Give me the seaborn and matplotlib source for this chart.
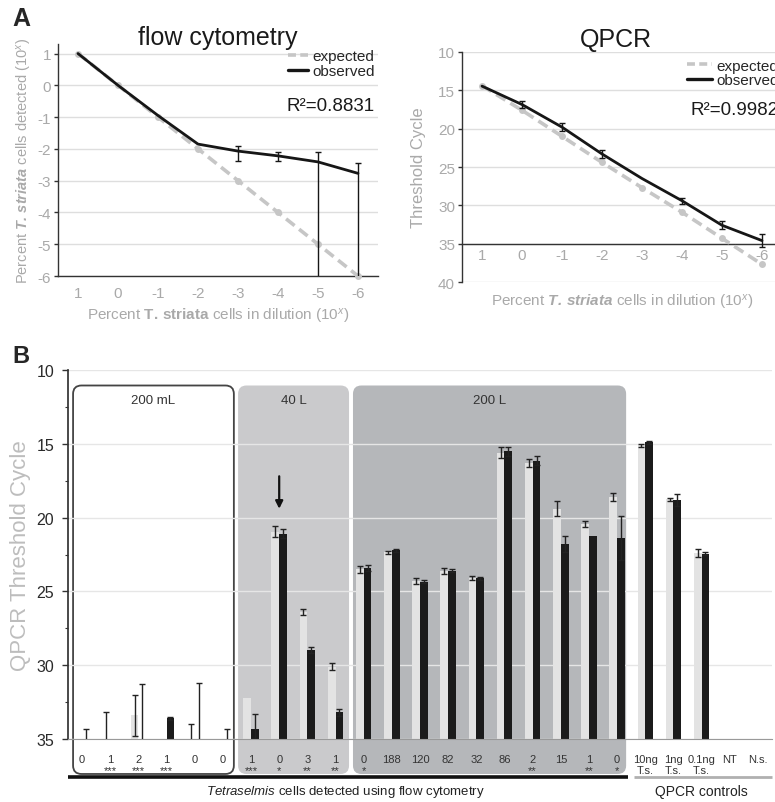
import numpy as np
import pandas as pd
import seaborn as sns
import matplotlib.pyplot as plt
from matplotlib.lines import Line2D
from matplotlib.patches import FancyBboxPatch
from matplotlib.ticker import FixedLocator, FuncFormatter, MultipleLocator

W, H = 775, 803

# ---------------- panel A data ----------------
dilution = ['1', '0', '-1', '-2', '-3', '-4', '-5', '-6']
fc_expected = [1, 0, -1, -2, -3, -4, -5, -6]
fc_observed = [1.0, 0.0, -0.95, -1.85, -2.07, -2.22, -2.41, -2.77]
fc_err_lo = [0, 0, 0, 0, 0.30, 0.16, 4.0, 4.0]
fc_err_hi = [0, 0, 0, 0, 0.16, 0.12, 0.31, 0.34]

qpcr_expected = [14.4, 17.6, 21.0, 24.4, 27.7, 30.9, 34.3, 37.7]
qpcr_observed = [14.45, 16.85, 19.8, 23.3, 26.5, 29.4, 32.6, 34.6]
qpcr_err = [0, 0.5, 0.5, 0.55, 0, 0.4, 0.5, 0.85]

# ---------------- panel B data ----------------
counts = ['0', '1', '2', '1', '0', '0',
          '1', '0', '3', '1',
          '0', '188', '120', '82', '32', '86', '2', '15', '1', '0',
          '10ng', '1ng', '0.1ng', 'NT', 'N.s.']
stars = ['', '***', '***', '***', '', '',
         '***', '*', '**', '**',
         '*', '', '', '', '', '', '**', '', '**', '*',
         'T.s.', 'T.s.', 'T.s.', '', '']
nan = np.nan
ct_light = [nan, 35.0, 33.4, nan, 35.0, nan,
            32.2, 20.95, 26.4, 30.1,
            23.5, 22.35, 24.3, 23.6, 24.1, 15.6, 16.3, 19.4, 20.45, 18.6,
            15.1, 18.75, 22.4, nan, nan]
err_light = [0, 1.85, 1.4, 0, 1.0, 0,
             0, 0.35, 0.2, 0.25,
             0.25, 0.1, 0.2, 0.2, 0.15, 0.35, 0.3, 0.5, 0.2, 0.25,
             0.1, 0.1, 0.3, 0, 0]
ct_dark = [35.0, nan, 35.0, 33.6, 35.0, 35.0,
           34.3, 21.1, 28.95, 33.2,
           23.4, 22.2, 24.35, 23.6, 24.1, 15.5, 16.15, 21.8, 21.25, 21.4,
           14.9, 18.8, 22.45, nan, nan]
err_dark = [0.7, 0, 3.7, 0.1, 3.8, 0.65,
            1.0, 0.3, 0.2, 0.25,
            0.2, 0.1, 0.1, 0.1, 0.1, 0.3, 0.3, 0.55, 0, 1.5,
            0.1, 0.4, 0.1, 0, 0]
volumes = ['200 mL', '40 L', '200 L']

# ---------------- style ----------------
sns.set_theme(style='white')
plt.rcParams['font.family'] = ['Liberation Sans', 'DejaVu Sans']
plt.rcParams['axes.unicode_minus'] = False
plt.rcParams['mathtext.fontset'] = 'custom'
plt.rcParams['mathtext.rm'] = 'Liberation Sans'
plt.rcParams['mathtext.it'] = 'Liberation Sans:italic'
plt.rcParams['mathtext.bf'] = 'Liberation Sans:bold'
plt.rcParams['mathtext.bfit'] = 'Liberation Sans:italic:bold'

GRAYTXT = '#a9a9a9'
EXP = '#c6c6c6'
OBS = '#161616'
GRID = '#dedede'


def px_rect(l, t, r, b):
    return [l / W, 1 - b / H, (r - l) / W, (b - t) / H]


fig = plt.figure(figsize=(W / 100, H / 100), dpi=100)


def style_a(ax):
    for s in ['top', 'right']:
        ax.spines[s].set_visible(False)
    ax.spines['left'].set_color('#333333')
    ax.spines['bottom'].set_color('#333333')
    ax.spines['left'].set_linewidth(1)
    ax.spines['bottom'].set_linewidth(1)
    ax.set_xticks(np.arange(len(dilution)))
    ax.set_xticklabels(dilution)
    ax.xaxis.set_minor_locator(FixedLocator(np.arange(-0.5, len(dilution), 1)))
    ax.tick_params(axis='x', which='major', length=0, pad=7, labelsize=11, labelcolor=GRAYTXT)
    ax.tick_params(axis='x', which='minor', length=5, width=1, direction='inout', color='#333333')
    ax.tick_params(axis='y', which='major', length=3, width=1, direction='out', left=True,
                   color='#333333', labelsize=11, labelcolor=GRAYTXT, pad=2)
    ax.yaxis.grid(True, color=GRID, lw=1)
    ax.xaxis.grid(False)
    ax.set_xlim(-0.5, len(dilution) - 0.5)
    handles = [Line2D([], [], color=EXP, lw=2.6, linestyle=(0, (2.2, 1.2))),
               Line2D([], [], color=OBS, lw=2.4)]
    return handles


pos = np.arange(len(dilution))

# ---------------- panel A: flow cytometry ----------------
ax1 = fig.add_axes(px_rect(58, 45, 378, 277))
sns.lineplot(x=pos, y=fc_expected, ax=ax1, color=EXP, lw=2.6, linestyle=(0, (3, 1.6)),
             marker='o', markersize=5, markeredgewidth=0, clip_on=False, zorder=3)
sns.lineplot(x=pos, y=fc_observed, ax=ax1, color=OBS, lw=2, zorder=4)
m = np.array(fc_err_hi) > 0
ax1.errorbar(pos[m], np.array(fc_observed)[m],
             yerr=[np.array(fc_err_lo)[m], np.array(fc_err_hi)[m]],
             fmt='none', ecolor=OBS, elinewidth=1, capsize=2.2, zorder=4)
h = style_a(ax1)
ax1.set_ylim(-6, 1.3)
ax1.set_yticks(range(-6, 2))
ax1.set_title('flow cytometry', fontsize=18, color='#1a1a1a', pad=0)
ax1.set_xlabel(r'Percent $\mathbf{T.}\,\mathbf{striata}$ cells in dilution (10$^{x}$)',
               fontsize=11, color=GRAYTXT)
ax1.xaxis.set_label_coords(0.5, -0.13)
ax1.set_ylabel(r'Percent $\mathbfit{T.}\,\mathbfit{striata}$ cells detected (10$^{x}$)',
               fontsize=10.5, color=GRAYTXT)
ax1.yaxis.set_label_coords(-0.075, 0.5)
ax1.legend(h, ['expected', 'observed'], loc='upper right', bbox_to_anchor=(1.0, 0.99),
           frameon=False, fontsize=11, handlelength=1.3, handletextpad=0.3,
           labelspacing=0.05, borderaxespad=0.1, borderpad=0.1)
ax1.text(0.99, 0.735, 'R²=0.8831', transform=ax1.transAxes, ha='right', va='center',
         fontsize=13.5, color='#1a1a1a')

# ---------------- panel A: QPCR ----------------
ax2 = fig.add_axes(px_rect(462, 53, 782, 283))
sns.lineplot(x=pos, y=qpcr_expected, ax=ax2, color=EXP, lw=2.6, linestyle=(0, (3, 1.6)),
             marker='o', markersize=5, markeredgewidth=0, clip_on=False, zorder=3)
sns.lineplot(x=pos, y=qpcr_observed, ax=ax2, color=OBS, lw=2, zorder=4)
m = np.array(qpcr_err) > 0
ax2.errorbar(pos[m], np.array(qpcr_observed)[m], yerr=np.array(qpcr_err)[m],
             fmt='none', ecolor=OBS, elinewidth=1, capsize=2.2, zorder=4)
h = style_a(ax2)
ax2.set_ylim(40, 10)
ax2.set_yticks(range(10, 41, 5))
ax2.spines['bottom'].set_position(('data', 35))
ax2.tick_params(axis='x', which='major', pad=3)
ax2.set_title('QPCR', fontsize=18, color='#1a1a1a', pad=4, x=0.48)
ax2.set_xlabel(r'Percent $\mathbfit{T.}\,\mathbfit{striata}$ cells in dilution (10$^{x}$)',
               fontsize=11, color=GRAYTXT)
ax2.xaxis.set_label_coords(0.5, -0.045)
ax2.set_ylabel('Threshold Cycle', fontsize=12, color=GRAYTXT)
ax2.yaxis.set_label_coords(-0.112, 0.5)
ax2.legend(h, ['expected', 'observed'], loc='upper right', bbox_to_anchor=(1.0, 0.985),
           frameon=False, fontsize=11, handlelength=1.6, handletextpad=0.3,
           labelspacing=0.05, borderaxespad=0.1, borderpad=0.1)
ax2.text(0.99, 0.752, 'R²=0.9982', transform=ax2.transAxes, ha='right', va='center',
         fontsize=13.5, color='#1a1a1a')

fig.text(21 / W, 1 - 19 / H, 'A', fontsize=18, fontweight='bold', ha='center', va='center')
fig.text(21 / W, 1 - 357 / H, 'B', fontsize=17, fontweight='bold', ha='center', va='center')

# ---------------- panel B ----------------
axB = fig.add_axes(px_rect(68, 371, 772, 740))
n = len(counts)
rows = []
for i in range(n):
    rows.append({'slot': i, 'sample': 'light', 'depth': 35 - ct_light[i]})
    rows.append({'slot': i, 'sample': 'dark', 'depth': 35 - ct_dark[i]})
df = pd.DataFrame(rows).dropna()

bw = 0.55
sns.barplot(data=df, x='slot', y='depth', hue='sample', order=list(range(n)),
            hue_order=['light', 'dark'], palette={'light': '#e3e3e3', 'dark': '#1b1b1b'},
            width=bw, errorbar=None, saturation=1, legend=False, linewidth=0,
            ax=axB, zorder=2)

for vals, errs, off in [(ct_light, err_light, -bw / 4), (ct_dark, err_dark, bw / 4)]:
    v = np.array(vals, dtype=float)
    e = np.array(errs, dtype=float)
    ok = (e > 0) & ~np.isnan(v)
    axB.errorbar(np.arange(n)[ok] + off, 35 - v[ok], yerr=e[ok], fmt='none',
                 ecolor='#222222', elinewidth=1, capsize=2.3, zorder=3)

axB.set_xlim(-0.5, n - 0.5)
axB.set_ylim(0, 25)
axB.yaxis.set_major_locator(FixedLocator([0, 5, 10, 15, 20, 25]))
axB.yaxis.set_major_formatter(FuncFormatter(lambda v, p: f'{35 - v:.0f}'))
axB.yaxis.set_minor_locator(MultipleLocator(2.5))
axB.tick_params(axis='y', which='major', length=4, width=1, left=True, color='#333333',
                labelsize=11.5, labelcolor='#2a2a2a', pad=6)
axB.tick_params(axis='y', which='minor', length=2.5, width=0.8, left=True, color='#333333')
axB.set_xticks(range(n))
axB.set_xticklabels([c + ('\n' + s if s else '') for c, s in zip(counts, stars)],
                    fontsize=8, color='#333333', linespacing=1.05)
axB.xaxis.set_minor_locator(FixedLocator(np.arange(-0.5, n, 1)))
axB.tick_params(axis='x', which='major', length=0, pad=11)
axB.tick_params(axis='x', which='minor', length=4, width=0.8, direction='inout', color='#999999')
axB.set_xlabel('')
axB.set_ylabel('QPCR Threshold Cycle', fontsize=16, color='#bdbdbd')
axB.yaxis.set_label_coords(-0.052, 0.5)
for s in ['top', 'right']:
    axB.spines[s].set_visible(False)
axB.spines['left'].set_color('#333333')
axB.spines['bottom'].set_color('#999999')
axB.spines['bottom'].set_linewidth(0.8)
axB.yaxis.grid(True, color='#e6e6e6', lw=1)
axB.xaxis.grid(False)
axB.set_axisbelow(True)

# volume group boxes
box_x = [(-0.32, 5.39), (5.54, 9.48), (9.62, 19.32)]
box_face = ['white', '#cacacc', '#b5b7ba']
box_edge = ['#444444', 'none', 'none']
top, bot = 35 - 11.05, -2.37
for (x0, x1), fc, ec, name in zip(box_x, box_face, box_edge, volumes):
    axB.add_patch(FancyBboxPatch((x0, bot), x1 - x0, top - bot,
                                 boxstyle='round,pad=0,rounding_size=0.3',
                                 mutation_aspect=1.9, facecolor=fc, edgecolor=ec,
                                 lw=1.3, zorder=0.2, clip_on=False))
    axB.text((x0 + x1) / 2, 35 - 12.0, name, ha='center', va='center',
             fontsize=9.5, color='#333333', zorder=3)

# arrow marking the 40 L sample
axB.annotate('', xy=(7, 35 - 19.4), xytext=(7, 35 - 17.2),
             arrowprops=dict(arrowstyle='-|>', color='#111111', lw=1.6, mutation_scale=11,
                             shrinkA=0, shrinkB=0))

# bottom brackets and captions
axB.plot([-0.5, 19.4], [-2.57, -2.57], color='#111111', lw=2.6, clip_on=False,
         solid_capstyle='butt')
axB.plot([19.6, 24.5], [-2.57, -2.57], color='#b0b0b0', lw=2, clip_on=False,
         solid_capstyle='butt')
axB.text(9.34, -3.55, r'$\it{Tetraselmis}$ cells detected using flow cytometry',
         ha='center', va='center', fontsize=9.5, color='#222222')
axB.text(22.0, -3.55, 'QPCR controls', ha='center', va='center',
         fontsize=10, color='#222222')

fig.savefig('out.png', dpi=100)
